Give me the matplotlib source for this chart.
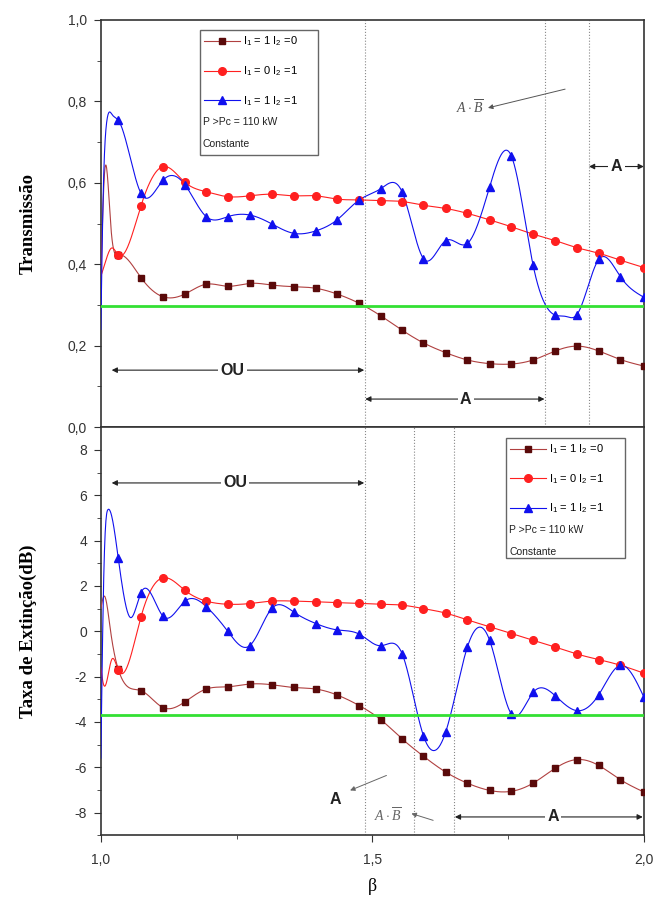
import numpy as np
import matplotlib
matplotlib.use("Agg")
import matplotlib.pyplot as plt
from matplotlib.ticker import FixedLocator, FuncFormatter, MultipleLocator
from matplotlib.patches import Rectangle

plt.rcParams['font.family'] = ['Liberation Sans', 'DejaVu Sans']
plt.rcParams['mathtext.fontset'] = 'custom'
plt.rcParams['mathtext.rm'] = 'Liberation Sans'
plt.rcParams['mathtext.it'] = 'Liberation Serif:italic'
plt.rcParams['mathtext.bf'] = 'Liberation Sans:bold'
plt.rcParams['axes.unicode_minus'] = False

# ---------------- data ----------------
beta_m = [1.032, 1.074, 1.115, 1.155, 1.194, 1.234, 1.274, 1.315, 1.355, 1.396,
          1.435, 1.476, 1.516, 1.555, 1.594, 1.635, 1.675, 1.716, 1.756, 1.796,
          1.837, 1.876, 1.917, 1.957, 2.000]

# Transmission (top panel)
t_10 = [0.423, 0.367, 0.320, 0.327, 0.351, 0.346, 0.353, 0.349, 0.345, 0.341,
        0.327, 0.304, 0.273, 0.238, 0.207, 0.183, 0.165, 0.156, 0.155, 0.165,
        0.187, 0.199, 0.187, 0.166, 0.150]
t_01 = [0.423, 0.544, 0.640, 0.601, 0.578, 0.566, 0.568, 0.572, 0.568, 0.568,
        0.560, 0.558, 0.556, 0.554, 0.545, 0.537, 0.525, 0.509, 0.492, 0.474,
        0.458, 0.441, 0.427, 0.410, 0.392]
t_11 = [0.754, 0.574, 0.607, 0.595, 0.517, 0.517, 0.521, 0.499, 0.476, 0.482,
        0.509, 0.558, 0.586, 0.577, 0.414, 0.458, 0.451, 0.590, 0.666, 0.398,
        0.275, 0.275, 0.412, 0.369, 0.319]
# unmarked curve points
t_10_xb = [1.000, 1.007, 1.018]
t_10_xv = [0.360, 0.627, 0.500]
t_01_xb = [1.000, 1.006, 1.020]
t_01_xv = [0.370, 0.395, 0.440]
t_11_xb = [1.000, 1.004, 1.010, 1.021, 1.856]
t_11_xv = [0.240, 0.550, 0.740, 0.767, 0.272]
t_green = 0.297

# Extinction ratio (bottom panel)
e_10 = [-1.67, -2.62, -3.37, -3.11, -2.55, -2.45, -2.33, -2.36, -2.48, -2.55,
        -2.81, -3.28, -3.91, -4.75, -5.51, -6.21, -6.70, -7.02, -7.06, -6.70,
        -6.04, -5.66, -5.92, -6.55, -7.09]
e_01 = [-1.70, 0.64, 2.36, 1.80, 1.33, 1.19, 1.22, 1.33, 1.33, 1.30,
        1.26, 1.23, 1.19, 1.15, 1.00, 0.80, 0.50, 0.20, -0.10, -0.40,
        -0.70, -1.00, -1.25, -1.50, -1.85]
e_11 = [3.24, 1.70, 0.65, 1.33, 1.09, -0.01, -0.64, 1.01, 0.85, 0.34,
        0.06, -0.13, -0.64, -1.00, -4.60, -4.45, -0.70, -0.40, -3.65, -2.70,
        -2.85, -3.50, -2.80, -1.50, -2.90]
e_10_xb = [1.000, 1.006, 1.018]
e_10_xv = [1.00, 1.55, 0.00]
e_01_xb = [1.000, 1.005, 1.020]
e_01_xv = [-1.60, -2.35, -1.25]
e_11_xb = [1.000, 1.005, 1.013, 1.055]
e_11_xv = [-5.60, 2.00, 5.36, 0.60]
e_green = -3.7

labels = [r'I$_1$ = 1 I$_2$ =0', r'I$_1$ = 0 I$_2$ =1', r'I$_1$ = 1 I$_2$ =1']


def spline(xs, ys, n=1500):
    """natural cubic spline through the given points"""
    order = np.argsort(xs)
    x = np.asarray(xs, float)[order]
    y = np.asarray(ys, float)[order]
    m = len(x)
    h = np.diff(x)
    A = np.zeros((m, m))
    r = np.zeros(m)
    A[0, 0] = A[-1, -1] = 1.0
    for i in range(1, m - 1):
        A[i, i - 1] = h[i - 1]
        A[i, i] = 2 * (h[i - 1] + h[i])
        A[i, i + 1] = h[i]
        r[i] = 6 * ((y[i + 1] - y[i]) / h[i] - (y[i] - y[i - 1]) / h[i - 1])
    M = np.linalg.solve(A, r)
    xx = np.linspace(x[0], x[-1], n)
    k = np.clip(np.searchsorted(x, xx) - 1, 0, m - 2)
    hk = h[k]
    a = (x[k + 1] - xx) / hk
    b = (xx - x[k]) / hk
    yy = a * y[k] + b * y[k + 1] + ((a ** 3 - a) * M[k] + (b ** 3 - b) * M[k + 1]) * hk ** 2 / 6
    return xx, yy


c_dr_line = '#b04040'
c_dr_mark = '#5a0a0a'
c_r = '#ff2020'
c_b = '#1010ee'
c_green = '#33e033'
ann_col = '#222222'

fig = plt.figure(figsize=(6.59, 9.05), dpi=100)
ax1 = fig.add_axes([0.153, 0.528, 0.824, 0.450])
ax2 = fig.add_axes([0.153, 0.077, 0.824, 0.451])


def draw(ax, s10, s01, s11, x10, v10, x01, v01, x11, v11, green):
    handles = []
    specs = [(s10, x10, v10, c_dr_line, c_dr_mark, 's', 4.5),
             (s01, x01, v01, c_r, c_r, 'o', 5.5),
             (s11, x11, v11, c_b, c_b, '^', 6)]
    for (vals, xb, xv, lc, mc, mk, ms), lab in zip(specs, labels):
        xx, yy = spline(list(beta_m) + xb, list(vals) + xv)
        ax.plot(xx, yy, color=lc, lw=0.8, zorder=3)
        ax.plot(beta_m, vals, linestyle='none', marker=mk, ms=ms,
                mfc=mc, mec=mc, zorder=4)
        handles.append(plt.Line2D([], [], color=lc, lw=0.8, marker=mk, ms=ms,
                                  mfc=mc, mec=mc))
    ax.axhline(green, color=c_green, lw=2, zorder=5)
    return handles


h1 = draw(ax1, t_10, t_01, t_11, t_10_xb, t_10_xv, t_01_xb, t_01_xv,
          t_11_xb, t_11_xv, t_green)
h2 = draw(ax2, e_10, e_01, e_11, e_10_xb, e_10_xv, e_01_xb, e_01_xv,
          e_11_xb, e_11_xv, e_green)

for ax in (ax1, ax2):
    ax.set_xlim(1.0, 2.0)
    for sp in ax.spines.values():
        sp.set_linewidth(1.2)
        sp.set_color('#333333')
    ax.tick_params(axis='both', which='both', direction='out', color='#333333',
                   labelsize=10, labelcolor='#333333', pad=5)
    ax.tick_params(which='major', length=5)
    ax.tick_params(which='minor', length=3)

ax1.set_ylim(0, 1)
ax1.yaxis.set_major_locator(MultipleLocator(0.2))
ax1.yaxis.set_minor_locator(MultipleLocator(0.1))
ax1.yaxis.set_major_formatter(FuncFormatter(lambda v, p: f'{v:.1f}'.replace('.', ',')))
ax1.tick_params(axis='x', which='both', bottom=False, labelbottom=False)

ax2.set_ylim(-9, 9)
ax2.yaxis.set_major_locator(FixedLocator([-8, -6, -4, -2, 0, 2, 4, 6, 8]))
ax2.yaxis.set_minor_locator(MultipleLocator(1))
ax2.yaxis.set_major_formatter(FuncFormatter(lambda v, p: f'{int(round(v))}'))
ax2.xaxis.set_major_locator(FixedLocator([1.0, 1.5, 2.0]))
ax2.xaxis.set_minor_locator(FixedLocator([1.25, 1.75]))
ax2.xaxis.set_major_formatter(FuncFormatter(lambda v, p: f'{v:.1f}'.replace('.', ',')))
ax2.tick_params(axis='x', pad=8)

ax1.set_ylabel('Transmissão', family='Liberation Serif', fontweight='bold',
               fontsize=13.5)
ax2.set_ylabel('Taxa de Extinção(dB)', family='Liberation Serif', fontweight='bold',
               fontsize=13.5)
ax2.set_xlabel('β', family='Liberation Serif', fontsize=13, labelpad=8)
ax1.yaxis.set_label_coords(-0.118, 0.5)
ax2.yaxis.set_label_coords(-0.118, 0.5)

# vertical dotted guide lines
for xv in (1.486, 1.818, 1.899):
    ax1.axvline(xv, color='#888888', lw=0.8, ls=':', zorder=1)
for xv in (1.487, 1.576, 1.650):
    ax2.axvline(xv, color='#888888', lw=0.8, ls=':', zorder=1)


def dbl_arrow(ax, x0, x1, y, label, tx=None):
    ax.annotate('', xy=(x0, y), xytext=(x1, y),
                arrowprops=dict(arrowstyle='<|-|>', color=ann_col, lw=0.8,
                                mutation_scale=8, shrinkA=0, shrinkB=0), zorder=6)
    if tx is None:
        tx = 0.5 * (x0 + x1)
    ax.text(tx, y, label, ha='center', va='center', fontsize=11.5, fontweight='bold',
            color=ann_col, zorder=7,
            bbox=dict(boxstyle='square,pad=0.15', fc='white', ec='none'))


dbl_arrow(ax1, 1.02, 1.485, 0.140, 'OU', tx=1.243)
dbl_arrow(ax1, 1.487, 1.817, 0.069, 'A', tx=1.672)
dbl_arrow(ax1, 1.899, 2.0, 0.640, 'A')
ax1.annotate('', xy=(1.713, 0.784), xytext=(1.855, 0.830),
             arrowprops=dict(arrowstyle='-|>', color='#555555', lw=0.7,
                             mutation_scale=7, shrinkA=0, shrinkB=0))
ax1.text(1.68, 0.784, r'$A\cdot\overline{B}$', fontsize=10, color='#555555',
         ha='center', va='center')

dbl_arrow(ax2, 1.02, 1.485, 6.54, 'OU', tx=1.247)
dbl_arrow(ax2, 1.652, 1.998, -8.19, 'A', tx=1.833)
ax2.annotate('', xy=(1.459, -7.02), xytext=(1.526, -6.36),
             arrowprops=dict(arrowstyle='-|>', color='#666666', lw=0.7,
                             mutation_scale=7, shrinkA=0, shrinkB=0))
ax2.text(1.431, -7.40, 'A', fontsize=11.5, fontweight='bold', color=ann_col,
         ha='center', va='center')
ax2.annotate('', xy=(1.572, -8.04), xytext=(1.612, -8.34),
             arrowprops=dict(arrowstyle='-|>', color='#666666', lw=0.7,
                             mutation_scale=7, shrinkA=0, shrinkB=0))
ax2.text(1.529, -8.12, r'$A\cdot\overline{B}$', fontsize=10, color='#666666',
         ha='center', va='center')

# legends (manual box like Origin)


def legend_box(ax, handles, x0, y0, x1, y1, anchor, t1y, t2y):
    ax.add_patch(Rectangle((x0, y0), x1 - x0, y1 - y0, transform=ax.transAxes,
                           fill=True, fc='white', ec='#666666', lw=1.0, zorder=8))
    leg = ax.legend(handles, labels, loc='upper left', bbox_to_anchor=anchor,
                    frameon=False, fontsize=8, handlelength=3.2, numpoints=1,
                    handletextpad=0.3, labelspacing=1.45, borderaxespad=0,
                    borderpad=0)
    leg.set_zorder(9)
    ax.text(x0 + 0.006, t1y, 'P >Pc = 110 kW', transform=ax.transAxes, fontsize=7.5,
            color='#222222', va='center', zorder=10)
    ax.text(x0 + 0.006, t2y, 'Constante', transform=ax.transAxes, fontsize=7.5,
            color='#222222', va='center', zorder=10)


legend_box(ax1, h1, 0.182, 0.668, 0.400, 0.975, (0.190, 0.963), 0.749, 0.695)
legend_box(ax2, h2, 0.746, 0.680, 0.965, 0.974, (0.754, 0.962), 0.748, 0.694)

fig.savefig('out.png', dpi=100)
